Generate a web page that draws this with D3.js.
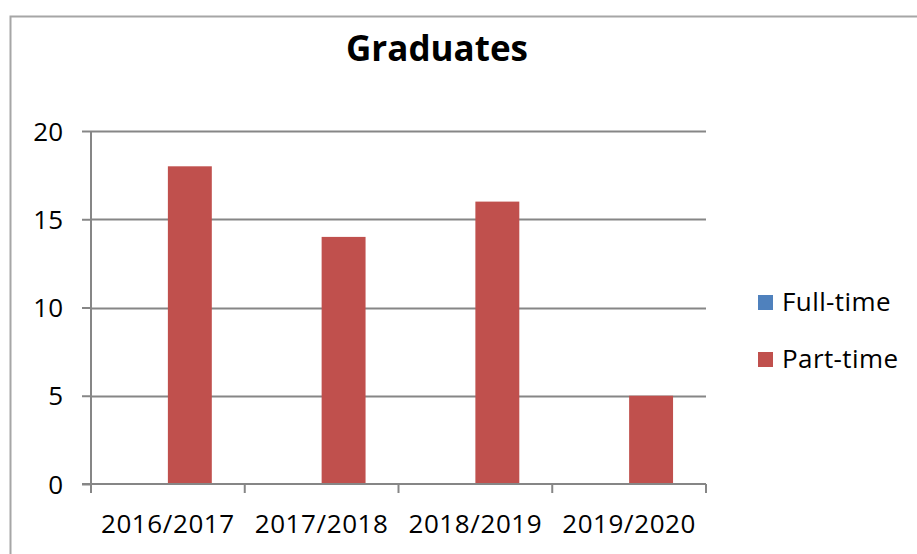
<!DOCTYPE html>
<html>
<head>
<meta charset="utf-8">
<script src="https://cdn.jsdelivr.net/npm/d3@7"></script>
<style>
  html, body { margin: 0; padding: 0; background: #fff; }
  svg { display: block; font-family: "Open Sans", "Noto Sans", sans-serif; }
</style>
</head>
<body>
<svg id="chart" width="917" height="554"></svg>
<script>
// Graduates per academic year, split by study mode
const years = ["2016/2017", "2017/2018", "2018/2019", "2019/2020"];
const seriesNames = ["Full-time", "Part-time"];
const fullTime = [0, 0, 0, 0];
const partTime = [18, 14, 16, 5];
const yTicks = [0, 5, 10, 15, 20];
const colors = ["#4F81BD", "#C0504D"];

const svg = d3.select("#chart");
const W = 917, H = 554;
const plot = { left: 91, right: 706, top: 131, bottom: 484 };

// Outer chart frame (only top and left edges fall inside the view)
svg.append("path")
  .attr("d", `M10.5,${H} V16.5 H${W}`)
  .attr("fill", "none")
  .attr("stroke", "#a6a6a6")
  .attr("stroke-width", 2);

// Title
svg.append("text")
  .attr("x", 437).attr("y", 61)
  .attr("text-anchor", "middle")
  .attr("font-size", 35).attr("font-weight", "bold")
  .attr("fill", "#000")
  .text("Graduates");

const x = d3.scaleBand().domain(years).range([plot.left, plot.right]).paddingInner(0).paddingOuter(0);
const y = d3.scaleLinear().domain([0, 20]).range([plot.bottom, plot.top]);

// Two bars per category, 150% gap width
const barW = x.bandwidth() / 3.5;
const xs = d3.scaleBand().domain(seriesNames).range([0, 2 * barW]);

// Horizontal gridlines
svg.append("g")
  .selectAll("line")
  .data(yTicks.filter(t => t > 0))
  .join("line")
  .attr("x1", plot.left).attr("x2", plot.right)
  .attr("y1", d => Math.round(y(d)) + 0.5).attr("y2", d => Math.round(y(d)) + 0.5)
  .attr("stroke", "#868686").attr("stroke-width", 2);

// Bars
const rows = years.map((yr, i) => ({ yr, values: [fullTime[i], partTime[i]] }));
const groups = svg.append("g")
  .selectAll("g")
  .data(rows)
  .join("g")
  .attr("transform", d => `translate(${x(d.yr) + x.bandwidth() / 2 - barW},0)`);
groups.selectAll("rect")
  .data(d => d.values.map((v, j) => ({ name: seriesNames[j], v, j })))
  .join("rect")
  .attr("x", d => xs(d.name))
  .attr("width", barW)
  .attr("y", d => y(d.v))
  .attr("height", d => y(0) - y(d.v))
  .attr("fill", d => colors[d.j]);

// Y axis
const yAxis = svg.append("g")
  .attr("transform", `translate(${plot.left},0)`)
  .call(d3.axisLeft(y).tickValues(yTicks).tickSize(9).tickPadding(19));
yAxis.selectAll("path, line").attr("stroke", "#868686").attr("stroke-width", 2);
yAxis.select(".domain").attr("d", `M0,${plot.top}V${plot.bottom}`);
yAxis.selectAll("text").attr("font-size", 26).attr("fill", "#000")
  .attr("font-family", "'Open Sans', sans-serif").attr("dy", "0.35em");

// X axis with ticks at category boundaries
const xAxis = svg.append("g")
  .attr("transform", `translate(0,${plot.bottom})`);
xAxis.append("line")
  .attr("x1", plot.left - 9).attr("x2", plot.right)
  .attr("stroke", "#868686").attr("stroke-width", 2);
xAxis.selectAll("line.tick")
  .data(d3.range(years.length + 1))
  .join("line")
  .attr("class", "tick")
  .attr("x1", i => plot.left + i * x.bandwidth()).attr("x2", i => plot.left + i * x.bandwidth())
  .attr("y1", 0).attr("y2", 9)
  .attr("stroke", "#868686").attr("stroke-width", 2);
xAxis.selectAll("text")
  .data(years)
  .join("text")
  .attr("x", d => x(d) + x.bandwidth() / 2)
  .attr("y", 49)
  .attr("text-anchor", "middle")
  .attr("font-size", 26).attr("letter-spacing", 0.6)
  .attr("fill", "#000")
  .text(d => d);

// Legend
const legend = svg.append("g").attr("transform", "translate(758,295)");
const items = legend.selectAll("g")
  .data(seriesNames)
  .join("g")
  .attr("transform", (d, i) => `translate(0,${i * 57})`);
items.append("rect")
  .attr("width", 15).attr("height", 15)
  .attr("fill", (d, i) => colors[i]);
items.append("text")
  .attr("x", 24).attr("y", 16)
  .attr("font-size", 26).attr("letter-spacing", 0.4)
  .attr("fill", "#000")
  .text(d => d);
</script>
</body>
</html>
